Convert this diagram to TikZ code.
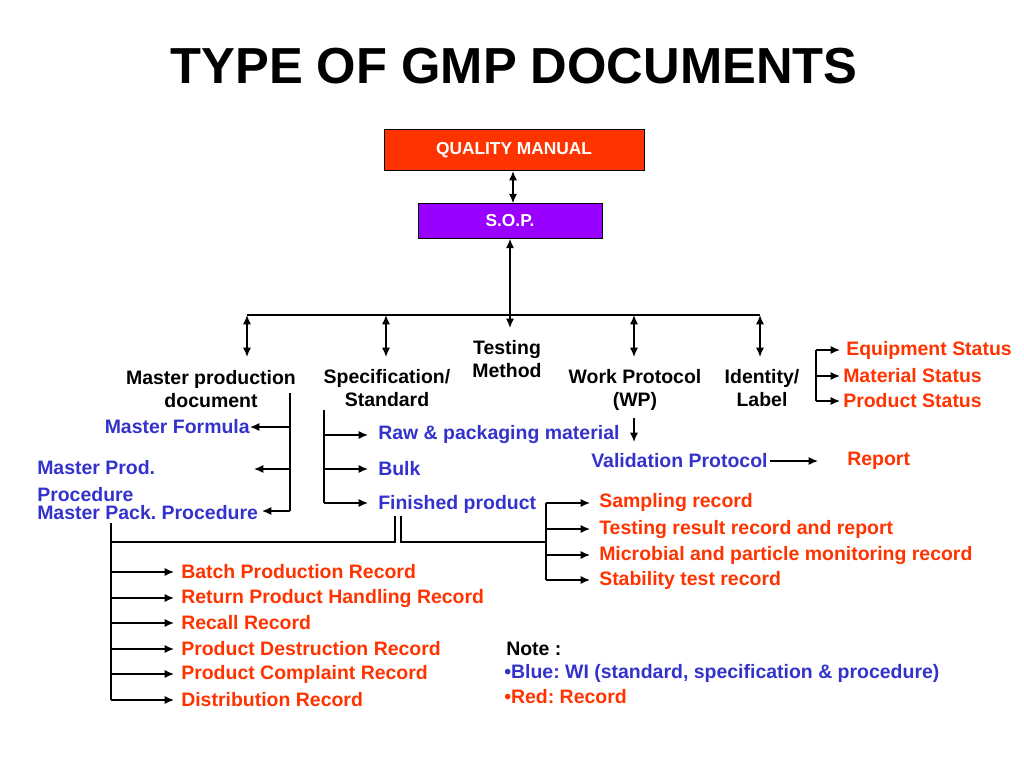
\documentclass[tikz,border=0pt]{standalone}
\usepackage{fontspec}
\setmainfont{Liberation Sans}
\usetikzlibrary{arrows.meta}
\definecolor{bl}{HTML}{3333CC}
\definecolor{rd}{HTML}{FF3300}
\definecolor{pu}{HTML}{9900FF}
\begin{document}
\frenchspacing
\begin{tikzpicture}[x=0.75pt,y=-0.75pt,
  ln/.style={line width=1pt,-{Latex[length=7pt,width=6pt]}},
  dl/.style={line width=1pt,{Latex[length=7pt,width=6pt]}-{Latex[length=7pt,width=6pt]}},
  pl/.style={line width=0.8pt},
  t/.style={font=\bfseries\fontsize{14.6}{17}\selectfont,inner sep=0pt},
  hd/.style={t,align=center,text=black},
  bt/.style={t,text=bl},
  rt/.style={t,text=rd},
  box/.style={draw=black,line width=0.6pt,text=white,font=\bfseries\fontsize{13}{15}\selectfont}]
\useasboundingbox (0,0) rectangle (1024,768);
\node[font=\bfseries\fontsize{38}{42}\selectfont] (title) at (514,66) {TYPE OF GMP DOCUMENTS};
\node[box,fill=rd,minimum width=195pt,minimum height=31pt] (qm) at (514,150) {QUALITY MANUAL};
\node[box,fill=pu,minimum width=138pt,minimum height=26pt] (sop) at (510,221) {S.O.P.};
\draw[dl] (qm.south -| 513,0) -- (sop.north -| 513,0);
\coordinate (tm) at (510,328);
\draw[dl] (sop.south) -- (tm);
\draw[pl] (247,315) -- (760,315);
\foreach \x in {247,386,634,760} \draw[dl] (\x,315) -- (\x,357);
\node[hd] (mpd) at (211,389) {Master production\\document};
\node[hd] (spec) at (387,388) {Specification/\\Standard};
\node[hd] (test) at (507,359) {Testing\\Method};
\node[hd] (wp) at (635,390) {Work Protocol\\(WP)};
\node[hd] (idl) at (762,388) {Identity/\\Label};
% master production
\node[bt,anchor=east] (mf) at (250,427) {Master Formula};
\node[bt,anchor=west,align=left] (mpp) at (37,481) {Master Prod.\\[3pt]Procedure};
\node[bt,anchor=west] (mpk) at (37,513) {Master Pack. Procedure};
\draw[pl] (290,393) -- (290,511);
\draw[ln] (290,427) -- (mf.east);
\draw[ln] (290,469) -- (254,469);
\draw[ln] (290,511) -- (262,511);
% spec
\node[bt,anchor=west] (raw) at (378,435) {Raw \& packaging material};
\node[bt,anchor=west] (bulk) at (378,469) {Bulk};
\node[bt,anchor=west] (fp) at (378,504) {Finished product};
\draw[pl] (324,410) -- (324,503);
\foreach \n/\y in {raw/435,bulk/469,fp/503} \draw[ln] (324,\y) -- (368,\y);
% WP
\node[bt,anchor=west] (vp) at (591,461) {Validation Protocol};
\node[rt,anchor=west] (rep) at (847,461) {Report};
\draw[ln] (634,418) -- (634,442);
\draw[ln] (770,461) -- (818,461);
% identity
\node[rt,anchor=west] (eq) at (846,350) {Equipment Status};
\node[rt,anchor=west] (ms) at (843,376) {Material Status};
\node[rt,anchor=west] (ps) at (843,401) {Product Status};
\draw[pl] (816,350) -- (816,401);
\foreach \y in {350,376,401} \draw[ln] (816,\y) -- (840,\y);
% finished product tests
\draw[pl] (546,503) -- (546,580);
\foreach \y/\s in {503/Sampling record,529/Testing result record and report,555/Microbial and particle monitoring record,580/Stability test record}{
  \draw[ln] (546,\y) -- (590,\y);
  \node[rt,anchor=west] at (599,\y) {\s};}
\draw[pl] (401,516) -- (401,542) -- (546,542);
\draw[pl] (395,516) -- (395,542) -- (111,542);
\draw[pl] (111,523) -- (111,700);
\foreach \y/\s in {572/Batch Production Record,598/Return Product Handling Record,623/Recall Record,649/Product Destruction Record,674/Product Complaint Record,700/Distribution Record}{
  \draw[ln] (111,\y) -- (174,\y);
  \node[rt,anchor=west] at (181,\y) {\s};}
% note
\node[t,anchor=west] (note) at (506,649) {Note :};
\node[bt,anchor=west] (nb) at (504,673) {•Blue: WI (standard, specification \& procedure)};
\node[rt,anchor=west] (nr) at (504,697) {•Red: Record};
\end{tikzpicture}
\end{document}
